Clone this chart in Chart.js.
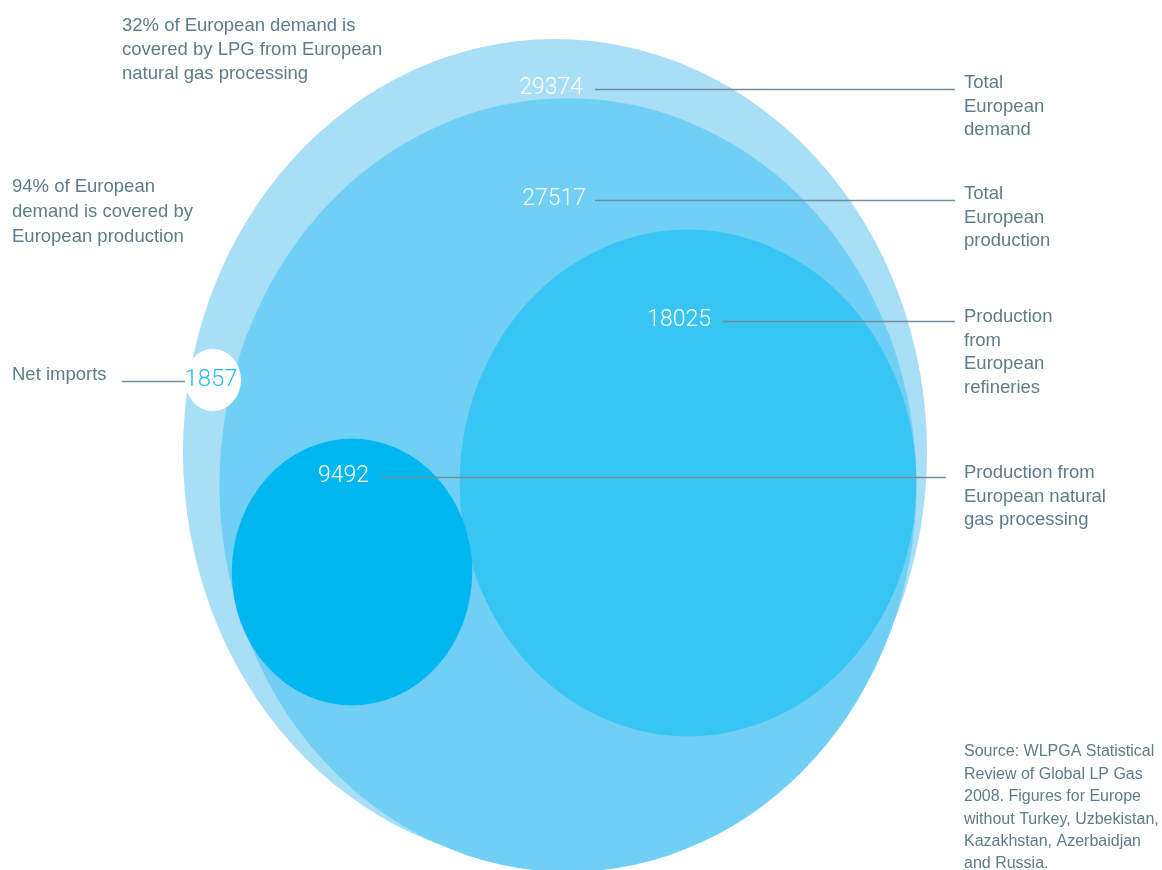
<!DOCTYPE html>
<html>
<head>
<meta charset="utf-8">
<script src="https://cdn.jsdelivr.net/npm/chart.js@4.4.1/dist/chart.umd.min.js"></script>
<style>
  html, body { margin: 0; padding: 0; background: #ffffff; }
  canvas { display: block; }
</style>
</head>
<body>
<canvas id="lpgChart" width="1162" height="870"></canvas>
<script>
// LPG supply and demand in Europe (thousand tonnes)
const categories = [
    'Total European demand',
    'Total European production',
    'Production from European refineries',
    'Production from European natural gas processing',
    'Net imports'
];
const values = [29374, 27517, 18025, 9492, 1857];

// Text next to each bubble (one entry per line)
const sideLabels = [
    ['Total', 'European', 'demand'],
    ['Total', 'European', 'production'],
    ['Production', 'from', 'European', 'refineries'],
    ['Production from', 'European natural', 'gas processing'],
    ['Net imports']
];
const notes = [
    ['32% of European demand is', 'covered by LPG from European', 'natural gas processing'],
    ['94% of European', 'demand is covered by', 'European production']
];
const sourceLines = [
    'Source: WLPGA Statistical',
    'Review of Global LP Gas',
    '2008. Figures for Europe',
    'without Turkey, Uzbekistan,',
    'Kazakhstan, Azerbaidjan',
    'and Russia.'
];

// layout (data units of the hidden axes) - bubble centres and label anchors
const centreX = [555, 568, 688, 352, 213];
const centreY = [452, 485, 483, 572, 380];
const numberAt = [[583, 88], [586, 199], [711, 320], [369, 476], [211, 380]];
const lineFrom = [[595, 955], [595, 955], [722, 955], [382, 946], [122, 185]];
const sideAt = [[964, 83], [964, 194], [964, 317], [964, 473], [12, 375]];

const colours = ['#a9def7', '#70cff5', '#38c5f4', '#00b6ee', '#ffffff'];
const textColour = '#5d7d8a';
const lineColour = '#6e8f9b';
const pxPerUnit = 372 / 29374;   // bubble diameter grows linearly with value
const stretch = 1.11;            // the original figure is drawn a bit taller than wide
const haloRadius = 28;           // net imports shown as a small label disc

const ellipsePlugin = {
    id: 'ellipses',
    beforeDatasetsDraw(chart) {
        const ctx = chart.ctx;
        const xs = chart.scales.x, ys = chart.scales.y;
        chart.data.datasets.forEach((ds, i) => {
            const pt = chart.getDatasetMeta(i).data[0];
            if (!pt || i === 4) return; // net imports drawn later, above leader lines
            const r = values[i] * pxPerUnit;
            const rx = Math.abs(xs.getPixelForValue(centreX[i] + r) - pt.x);
            const ry = Math.abs(ys.getPixelForValue(centreY[i] + r * stretch) - pt.y);
            ctx.save();
            ctx.fillStyle = colours[i];
            ctx.beginPath();
            ctx.ellipse(pt.x, pt.y, rx, ry, 0, 0, Math.PI * 2);
            ctx.fill();
            ctx.restore();
        });
    },
    afterDatasetsDraw(chart) {
        const ctx = chart.ctx;
        const xs = chart.scales.x, ys = chart.scales.y;
        const px = v => xs.getPixelForValue(v);
        const py = v => ys.getPixelForValue(v);
        ctx.save();

        // leader lines
        ctx.strokeStyle = lineColour;
        ctx.lineWidth = 1.5;
        lineFrom.forEach((seg, i) => {
            const y = Math.round(py(numberAt[i][1] + 1)) + 0.5;
            ctx.beginPath();
            ctx.moveTo(px(seg[0]), y);
            ctx.lineTo(px(seg[1]), y);
            ctx.stroke();
        });

        // net imports disc
        const pt = chart.getDatasetMeta(4).data[0];
        ctx.fillStyle = colours[4];
        ctx.beginPath();
        ctx.ellipse(pt.x, pt.y, haloRadius, haloRadius * stretch, 0, 0, Math.PI * 2);
        ctx.fill();

        // value labels
        ctx.font = '300 23px Roboto, "Liberation Sans", sans-serif';
        ctx.textBaseline = 'middle';
        values.forEach((v, i) => {
            ctx.fillStyle = i === 4 ? '#2cbcef' : '#ffffff';
            ctx.textAlign = i === 4 ? 'center' : 'right';
            ctx.font = i === 4 ? '300 24px Roboto, "Liberation Sans", sans-serif'
                               : '300 23px Roboto, "Liberation Sans", sans-serif';
            ctx.fillText(String(v), px(numberAt[i][0]), py(numberAt[i][1]));
        });

        // side labels
        ctx.fillStyle = textColour;
        ctx.textAlign = 'left';
        ctx.font = '18.5px "Liberation Sans", Arial, sans-serif';
        sideLabels.forEach((lines, i) => {
            lines.forEach((t, k) => {
                ctx.fillText(t, px(sideAt[i][0]), py(sideAt[i][1] + k * 23.7));
            });
        });
        notes[0].forEach((t, k) => ctx.fillText(t, px(122), py(26 + k * 24)));
        notes[1].forEach((t, k) => ctx.fillText(t, px(12), py(187 + k * 25)));

        ctx.font = '16px "Liberation Sans", Arial, sans-serif';
        sourceLines.forEach((t, k) => ctx.fillText(t, px(964), py(752 + k * 22.4)));
        ctx.restore();
    }
};

new Chart(document.getElementById('lpgChart'), {
    type: 'scatter',
    data: {
        datasets: categories.map((name, i) => ({
            label: name,
            data: [{ x: centreX[i], y: centreY[i], v: values[i] }],
            pointRadius: 0,
            pointHoverRadius: 0,
            backgroundColor: colours[i]
        }))
    },
    options: {
        responsive: false,
        animation: false,
        layout: { padding: 0 },
        events: [],
        plugins: {
            legend: { display: false },
            tooltip: { enabled: false }
        },
        scales: {
            x: { type: 'linear', min: 0, max: 1162, display: false },
            y: { type: 'linear', min: 0, max: 870, reverse: true, display: false }
        }
    },
    plugins: [ellipsePlugin]
});
</script>
</body>
</html>
